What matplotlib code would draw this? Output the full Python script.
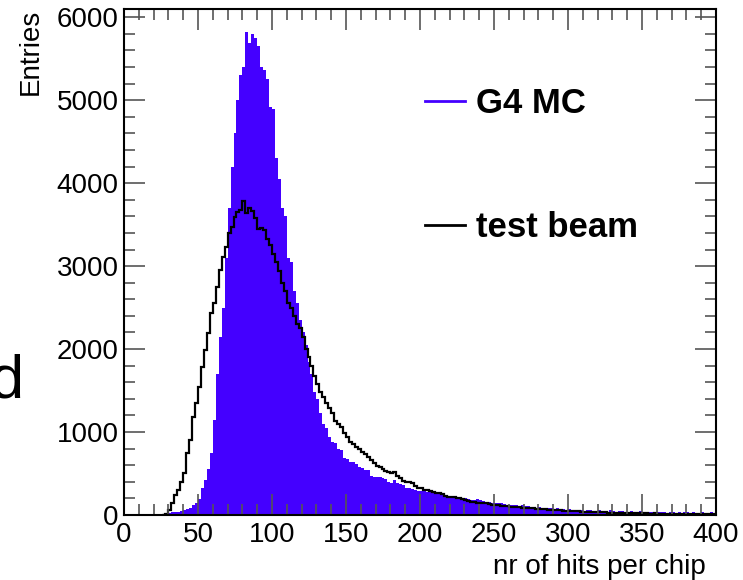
import numpy as np
import matplotlib
matplotlib.use("Agg")
import matplotlib.pyplot as plt
from matplotlib.lines import Line2D
from matplotlib.ticker import MultipleLocator

plt.rcParams['font.family'] = ['Liberation Sans', 'DejaVu Sans']

# histogram data, bin width 2
bin_width = 2
mc_start = 28  # first bin edge of G4 MC
mc_counts = [
    10, 25, 30, 35, 40, 50, 60, 75, 90, 120, 150, 190, 320, 420, 560, 750,
    1150, 1700, 2150, 2500, 3100, 3700, 4200, 4600, 5000, 5300, 5400, 5820,
    5690, 5800, 5750, 5650, 5400, 5360, 5250, 4920, 4900, 4300, 4050, 3700,
    3600, 3100, 3050, 2700, 2550, 2350, 2200, 2050, 1850, 1700, 1480, 1400,
    1230, 1100, 1050, 940, 880, 870, 790, 780, 690, 680, 640, 640, 620, 580,
    570, 545, 540, 470, 460, 455, 460, 450, 430, 400, 385, 420, 380, 375,
    360, 330, 325, 310, 300, 295, 285, 290, 280, 275, 280, 265, 255, 245,
    240, 230, 220, 225, 215, 205, 205, 200, 195, 185, 180, 190, 175, 165,
    160, 155, 150, 145, 140, 150, 135, 125, 120, 125, 115, 110, 120, 105,
    110, 100, 95, 90, 95, 85, 90, 80, 85, 75, 80, 70, 75, 65, 70, 60, 65,
    55, 60, 50, 55, 65, 45, 50, 60, 45, 50, 40, 55, 45, 40, 45, 50, 35, 40,
    45, 35, 40, 50, 35, 30, 40, 35, 30, 40, 30, 35, 25, 30, 40, 25, 30, 20,
    30, 35, 25, 30, 20, 25, 30, 20, 25, 30, 20, 25,
]
tb_start = 26  # first bin edge of test beam
tb_counts = [
    0, 10, 60, 145, 240, 300, 400, 505, 745, 905, 1180, 1350, 1545, 1790,
    1990, 2190, 2430, 2550, 2750, 2955, 3110, 3230, 3400, 3475, 3595, 3650,
    3680, 3790, 3640, 3700, 3660, 3580, 3450, 3460, 3440, 3330, 3260, 3150,
    3050, 2940, 2800, 2700, 2560, 2500, 2400, 2300, 2250, 2150, 2000, 1900,
    1800, 1680, 1580, 1480, 1420, 1350, 1290, 1230, 1130, 1100, 1060, 990,
    945, 885, 860, 825, 790, 760, 730, 705, 660, 625, 590, 575, 550, 525,
    520, 505, 515, 470, 445, 410, 400, 395, 385, 350, 330, 325, 305, 300,
    285, 280, 270, 265, 250, 225, 220, 220, 215, 210, 205, 195, 180, 170,
    160, 160, 150, 150, 145, 140, 130, 120, 125, 115, 110, 110, 105, 100,
    100, 95, 95, 90, 85, 85, 80, 80, 75, 72, 70, 68, 65, 60, 60, 55, 57,
    50, 52, 48, 45, 47, 42, 40, 41, 38, 35, 37, 33, 32, 31, 30, 28, 29, 26,
    25, 27, 24, 23, 22, 24, 20, 21, 19, 18, 19, 17, 16, 18, 15, 16, 14, 15,
    13, 14, 12, 13, 12, 11, 12, 10, 11, 10, 9, 10, 9, 8, 9, 8,
]

mc_edges = mc_start + bin_width * np.arange(len(mc_counts) + 1)
tb_edges = tb_start + bin_width * np.arange(len(tb_counts) + 1)

blue = '#4400ff'

fig = plt.figure(figsize=(7.43, 5.80), dpi=100)
ax = fig.add_axes([0.1669, 0.1121, 0.7968, 0.8724])

ax.stairs(mc_counts, mc_edges, fill=True, color=blue, lw=0)
ax.stairs(tb_counts, tb_edges, color='black', lw=1.6)

ax.set_xlim(0, 400)
ax.set_ylim(0, 6100)
ax.xaxis.set_major_locator(MultipleLocator(50))
ax.xaxis.set_minor_locator(MultipleLocator(10))
ax.yaxis.set_major_locator(MultipleLocator(1000))
ax.yaxis.set_minor_locator(MultipleLocator(200))

ax.tick_params(which='both', direction='in', top=True, right=True,
               color='#555555', width=1.2, labelsize=20)
ax.tick_params(which='major', length=15)
ax.tick_params(which='minor', length=8)
ax.tick_params(axis='x', pad=5)
ax.tick_params(axis='y', pad=4)
for s in ax.spines.values():
    s.set_linewidth(1.5)

ax.set_ylabel('Entries', fontsize=20, loc='top')
ax.yaxis.set_label_coords(-0.135, 1.0)
ax.set_xlabel('nr of hits per chip', fontsize=20, loc='right')
ax.xaxis.set_label_coords(0.982, -0.077)

handles = [Line2D([], [], color=blue, lw=2), Line2D([], [], color='black', lw=2)]
leg = ax.legend(handles, ['G4 MC', 'test beam'], loc='upper left',
                bbox_to_anchor=(0.508, 0.846), frameon=False,
                prop={'weight': 'bold', 'size': 25}, handlelength=1.15,
                handletextpad=0.33, labelspacing=2.62, borderpad=0,
                borderaxespad=0)

fig.text(24 / 743, 1 - 398 / 580, 'd', fontsize=44, ha='right', va='baseline')

fig.savefig('out.png', dpi=100)
